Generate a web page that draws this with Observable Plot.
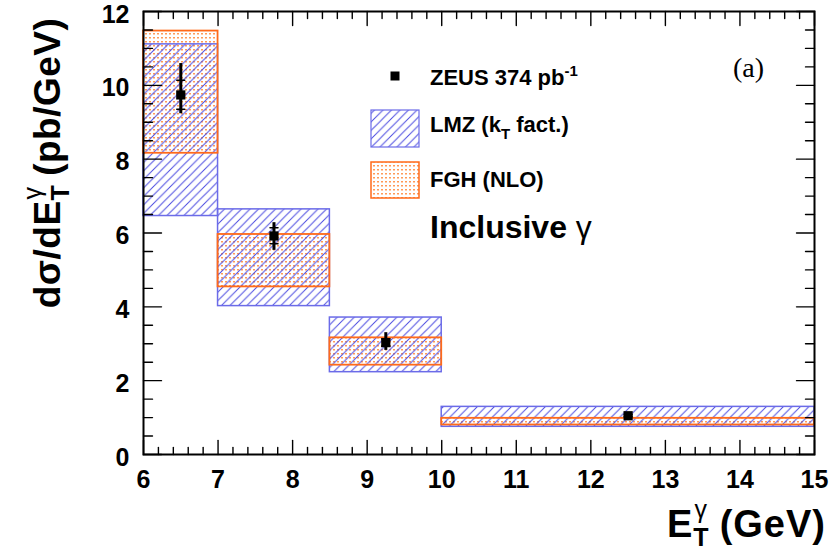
<!DOCTYPE html>
<html><head><meta charset="utf-8">
<script src="https://cdn.jsdelivr.net/npm/d3@7"></script>
<script src="https://cdn.jsdelivr.net/npm/@observablehq/plot@0.6"></script>
<style>
body{margin:0;background:#fff;}
#chart{position:relative;width:833px;height:560px;}
</style></head><body><div id="chart"></div>
<script>
// ---- data ----
const binLo = [6, 7, 8.5, 10];
const binHi = [7, 8.5, 10, 15];
const lmzLo = [6.46, 4.02, 2.23, 0.75];
const lmzHi = [11.11, 6.64, 3.71, 1.29];
const fghLo = [8.16, 4.54, 2.42, 0.80];
const fghHi = [11.47, 5.96, 3.16, 0.98];
const zeusX = [6.5, 7.75, 9.25, 12.5];
const zeusY = [9.74, 5.92, 3.03, 1.05];
const zeusTotLo = [9.23, 5.53, 2.82, 1.00];
const zeusTotHi = [10.59, 6.28, 3.30, 1.10];
const zeusStatLo = [9.35, 5.71, 2.93, 1.02];
const zeusStatHi = [10.14, 6.14, 3.13, 1.08];
const xTicks = [6, 7, 8, 9, 10, 11, 12, 13, 14, 15];
const yTicks = [0, 2, 4, 6, 8, 10, 12];
const xMinor = d3.range(60, 151, 2).filter(d => d % 10 !== 0).map(d => d / 10);
const yMinor = d3.range(0, 121, 5).filter(d => d % 20 !== 0).map(d => d / 10);

const bins = binLo.map((lo, i) => ({
  lo, hi: binHi[i], lmzLo: lmzLo[i], lmzHi: lmzHi[i], fghLo: fghLo[i], fghHi: fghHi[i],
  x: zeusX[i], y: zeusY[i], totLo: zeusTotLo[i], totHi: zeusTotHi[i],
  statLo: zeusStatLo[i], statHi: zeusStatHi[i]
}));

const F = "'Liberation Sans', Arial, Helvetica, sans-serif";
const line = {draw(c, l) { c.moveTo(0, 0); c.lineTo(0, -l); }};
const tk = (data, anchor, rotate, length, ch) => Plot.vector(data, {
  [ch]: d => d, frameAnchor: anchor, rotate, length, anchor: "start", shape: line,
  stroke: "black", strokeWidth: 1.4, fill: "none"
});

const blue = "#6b6be8";
const orange = "#ff6a1a";

const plot = Plot.plot({
  width: 833, height: 560,
  marginLeft: 143, marginRight: 19, marginTop: 11, marginBottom: 106,
  x: {domain: [6, 15]},
  y: {domain: [0, 12]},
  style: {fontFamily: F, fontWeight: "bold", color: "black", background: "white"},
  marks: [
    Plot.rect(bins, {x1: "lo", x2: "hi", y1: "fghLo", y2: "fghHi", fill: "url(#fghDots)"}),
    Plot.rect(bins, {x1: "lo", x2: "hi", y1: "lmzLo", y2: "lmzHi", fill: "url(#lmzHatch)", stroke: blue, strokeWidth: 1.5}),
    Plot.rect(bins, {x1: "lo", x2: "hi", y1: "fghLo", y2: "fghHi", fill: "none", stroke: orange, strokeWidth: 1.8}),
    Plot.ruleX(bins, {x: "x", y1: "totLo", y2: "totHi", stroke: "black", strokeWidth: 3}),
    Plot.vector(bins, {x: "x", y: "statHi", rotate: 90, length: 8, anchor: "middle", shape: line, stroke: "black", strokeWidth: 1.5, fill: "none"}),
    Plot.vector(bins, {x: "x", y: "statLo", rotate: 90, length: 8, anchor: "middle", shape: line, stroke: "black", strokeWidth: 1.5, fill: "none"}),
    Plot.dot(bins, {x: "x", y: "y", symbol: "square", r: 5.2, fill: "black", stroke: "none"}),
    tk(xTicks, "bottom", 0, 14, "x"),
    tk(xMinor, "bottom", 0, 7, "x"),
    tk(xTicks, "top", 180, 14, "x"),
    tk(xMinor, "top", 180, 7, "x"),
    tk(yTicks, "left", 90, 18, "y"),
    tk(yMinor, "left", 90, 9, "y"),
    tk(yTicks, "right", -90, 18, "y"),
    tk(yMinor, "right", -90, 9, "y"),
    Plot.frame({stroke: "black", strokeWidth: 2}),
    Plot.axisX({ticks: xTicks, tickSize: 0, tickPadding: 16, fontSize: 25, fontWeight: "bold", label: null, tickFormat: d => String(d)}),
    Plot.axisY({ticks: yTicks, tickSize: 0, tickPadding: 14, dy: 3, fontSize: 25, fontWeight: "bold", label: null, tickFormat: d => String(d)})
  ]
});
document.getElementById("chart").append(plot);

const svg = d3.select(plot);
const defs = svg.insert("defs", ":first-child");
const hp = defs.append("pattern").attr("id", "lmzHatch").attr("patternUnits", "userSpaceOnUse")
  .attr("width", 8.5).attr("height", 8.5);
hp.append("path").attr("d", "M0,8.5 L8.5,0 M-1,1 L1,-1 M7.5,9.5 L9.5,7.5")
  .attr("stroke", "#4848e0").attr("stroke-width", 1).attr("fill", "none");
const dp = defs.append("pattern").attr("id", "fghDots").attr("patternUnits", "userSpaceOnUse")
  .attr("width", 4).attr("height", 4);
dp.append("rect").attr("x", 1).attr("y", 1).attr("width", 2).attr("height", 1.5).attr("fill", "#ff9a58");

// axis titles
const yt = svg.append("text").attr("transform", "translate(60,163) rotate(-90)")
  .attr("text-anchor", "middle").attr("font-size", 37).attr("font-weight", "bold")
  .attr("font-family", F).attr("fill", "black").attr("letter-spacing", 0.5);
yt.append("tspan").text("dσ/dE");
yt.append("tspan").attr("font-size", 25).attr("dy", 9).text("T");
yt.append("tspan").attr("font-size", 25).attr("dx", -15).attr("dy", -28).attr("font-weight", "normal").text("γ");
yt.append("tspan").attr("dy", 19).text(" (pb/GeV)");

const xt = svg.append("text").attr("x", 826).attr("y", 537)
  .attr("text-anchor", "end").attr("font-size", 38).attr("font-weight", "bold")
  .attr("font-family", F).attr("fill", "black").attr("letter-spacing", 1);
xt.append("tspan").text("E");
xt.append("tspan").attr("font-size", 25).attr("dy", 9).text("T");
xt.append("tspan").attr("font-size", 25).attr("dx", -15).attr("dy", -28).attr("font-weight", "normal").text("γ");
xt.append("tspan").attr("dy", 19).text(" (GeV)");

// label (a)
svg.append("text").attr("x", 733).attr("y", 77).attr("font-size", 28)
  .attr("font-family", "'Liberation Serif', 'DejaVu Serif', serif").attr("font-weight", "normal")
  .attr("text-anchor", "start").attr("fill", "black").text("(a)");

// legend
const lg = svg.append("g").attr("font-family", F).attr("font-weight", "bold").attr("fill", "black").attr("text-anchor", "start");
lg.append("rect").attr("x", 390.5).attr("y", 71.5).attr("width", 9).attr("height", 9).attr("fill", "black");
const t1 = lg.append("text").attr("x", 430).attr("y", 85).attr("font-size", 22);
t1.append("tspan").text("ZEUS 374 pb");
t1.append("tspan").attr("font-size", 15).attr("dy", -9).text("-1");

lg.append("rect").attr("x", 371).attr("y", 110).attr("width", 48).attr("height", 37)
  .attr("fill", "url(#lmzHatch)").attr("stroke", blue).attr("stroke-width", 1.2);
const t2 = lg.append("text").attr("x", 430).attr("y", 132).attr("font-size", 22);
t2.append("tspan").text("LMZ (k");
t2.append("tspan").attr("font-size", 15).attr("dy", 7).text("T");
t2.append("tspan").attr("dy", -7).text(" fact.)");

lg.append("rect").attr("x", 371).attr("y", 162).attr("width", 48).attr("height", 36)
  .attr("fill", "url(#fghDots)").attr("stroke", orange).attr("stroke-width", 1.5);
lg.append("text").attr("x", 430).attr("y", 187).attr("font-size", 22).text("FGH (NLO)");

const t3 = lg.append("text").attr("x", 430).attr("y", 238).attr("font-size", 32);
t3.append("tspan").text("Inclusive ");
t3.append("tspan").attr("font-weight", "normal").text("γ");
</script></body></html>
